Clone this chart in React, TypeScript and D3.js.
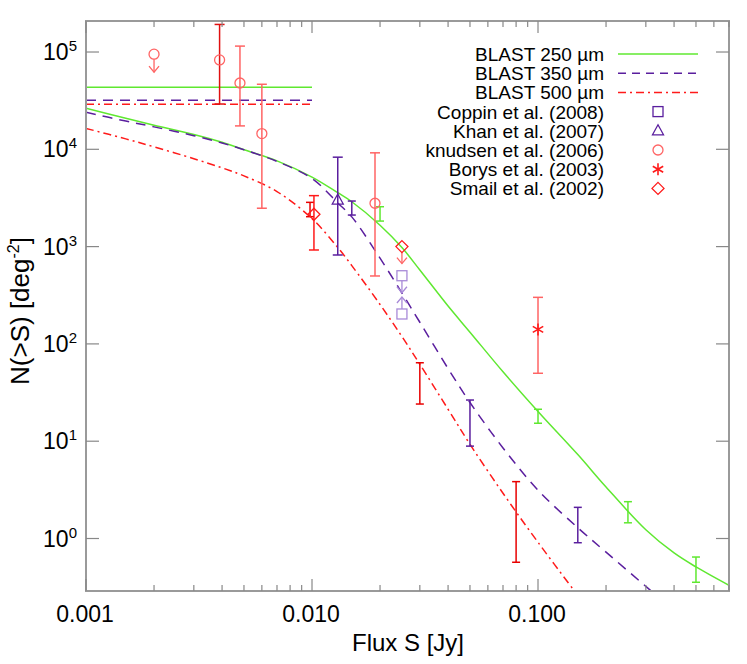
import React, { useRef, useEffect } from "react";
import * as d3 from "d3";

// model counts N(>S)
const fluxGrid = [0.001, 0.0015, 0.002, 0.003, 0.004, 0.005, 0.007, 0.01, 0.013, 0.015, 0.02, 0.025, 0.03, 0.04, 0.05, 0.07, 0.1, 0.15, 0.2, 0.3, 0.4, 0.5, 0.7];
const blast250 = [2.64e4, 2.09e4, 1.77e4, 1.42e4, 1.18e4, 9.9e3, 7.6e3, 5.18e3, 3.58e3, 2.89e3, 1.66e3, 977, 575, 245, 132, 51.7, 20.2, 7.28, 3.38, 1.23, 0.71, 0.51, 0.33];
const blast350 = [2.4e4, 1.95e4, 1.7e4, 1.38e4, 1.16e4, 9.9e3, 7.5e3, 5.01e3, 2.81e3, 2.02e3, 760, 333, 167, 55.8, 25, 8.53, 3.14, 1.29, 0.724, 0.322, 0.181];
const blast500 = [1.64e4, 1.28e4, 1.06e4, 8.0e3, 6.45e3, 5.33e3, 3.68e3, 1.94e3, 980, 638, 254, 119, 61.8, 21.3, 9.3, 2.92, 0.914, 0.26];

// flat levels drawn below 0.01 Jy
const plateauFlux = [0.001, 0.01];
const plateau250 = 4.34e4;
const plateau350 = 3.19e4;
const plateau500 = 2.9e4;

// BLAST error bars
const b250Flux = [0.02, 0.1, 0.25, 0.5];
const b250Lo = [1.83e3, 15.3, 1.45, 0.355];
const b250Hi = [2.57e3, 21.3, 2.39, 0.645];
const b350Flux = [0.015, 0.05, 0.15];
const b350Lo = [2.11e3, 8.9, 0.905];
const b350Hi = [2.94e3, 26.5, 2.09];
const b500Flux = [0.0098, 0.03, 0.08];
const b500Lo = [2.03e3, 24.1, 0.57];
const b500Hi = [2.85e3, 64, 3.84];

// literature points
const knudsenFlux = [0.002, 0.0039, 0.0048, 0.006, 0.019];
const knudsenN = [9.5e4, 8.3e4, 4.8e4, 1.45e4, 2.79e3];
const knudsenLo = [null, 2.92e4, 1.74e4, 2.48e3, 499];
const knudsenHi = [null, 1.92e5, 1.15e5, 4.66e4, 9.2e3];

const smailFlux = [0.0102, 0.025];
const smailN = [2.15e3, 1.0e3];
const smailLo = [923, null];
const smailHi = [3.34e3, null];

const khanFlux = [0.013];
const khanN = [3.01e3];
const khanLo = [820];
const khanHi = [8.3e3];

const coppinFlux = [0.025, 0.025];
const coppinN = [502, 203];
const coppinDir = ["down", "up"];

const borysFlux = [0.1];
const borysN = [141];
const borysLo = [49.9];
const borysHi = [301];

const xTickLabels = ["0.001", "0.010", "0.100"];
const yTickExps = [0, 1, 2, 3, 4, 5];

const legendLabels = [
  "BLAST 250 \u00b5m",
  "BLAST 350 \u00b5m",
  "BLAST 500 \u00b5m",
  "Coppin et al. (2008)",
  "Khan et al. (2007)",
  "knudsen et al. (2006)",
  "Borys et al. (2003)",
  "Smail et al. (2002)",
];

const GREEN = "#5fe830";
const PURPLE = "#5a1e9e";
const LIGHT_PURPLE = "#a88ad8";
const RED = "#ff1a1a";
const LIGHT_RED = "#ff6464";

function App() {
  const ref = useRef(null);

  useEffect(() => {
    const svg = d3.select(ref.current);
    svg.selectAll("*").remove();

    const left = 86, right = 729, top = 21, bottom = 591;
    const x = d3.scaleLog().domain([0.001, 0.7]).range([left, right]);
    const y = d3.scaleLog().domain([0.2887, 2.083e5]).range([bottom, top]);

    svg.append("rect").attr("width", 747).attr("height", 664).attr("fill", "#fff");

    svg.append("clipPath").attr("id", "plotclip")
      .append("rect").attr("x", left).attr("y", top)
      .attr("width", right - left).attr("height", bottom - top);

    const plot = svg.append("g").attr("clip-path", "url(#plotclip)");

    const line = d3.line().curve(d3.curveCatmullRom.alpha(0.5));
    const curve = (vals, color, dash) => {
      const pts = vals.map((v, i) => [x(fluxGrid[i]), y(v)]);
      plot.append("path").attr("d", line(pts))
        .attr("fill", "none").attr("stroke", color).attr("stroke-width", 1.5)
        .attr("stroke-dasharray", dash);
    };
    const plateau = (v, color, dash) => {
      plot.append("line")
        .attr("x1", x(plateauFlux[0])).attr("x2", x(plateauFlux[1]))
        .attr("y1", y(v)).attr("y2", y(v))
        .attr("stroke", color).attr("stroke-width", 1.5).attr("stroke-dasharray", dash);
    };

    const DASH = "10,7";
    const DASHDOT = "8,4,2,4";

    plateau(plateau250, GREEN, null);
    plateau(plateau350, PURPLE, DASH);
    plateau(plateau500, RED, DASHDOT);
    curve(blast250, GREEN, null);
    curve(blast350, PURPLE, DASH);
    curve(blast500, RED, DASHDOT);

    const errBar = (f, lo, hi, color, hw = 4.5) => {
      const cx = x(f);
      const g = plot.append("g").attr("stroke", color).attr("stroke-width", 1.5);
      g.append("line").attr("x1", cx).attr("x2", cx).attr("y1", y(lo)).attr("y2", y(hi));
      g.append("line").attr("x1", cx - hw).attr("x2", cx + hw).attr("y1", y(lo)).attr("y2", y(lo));
      g.append("line").attr("x1", cx - hw).attr("x2", cx + hw).attr("y1", y(hi)).attr("y2", y(hi));
    };

    const arrow = (g, cx, y0, y1, color) => {
      const s = y1 > y0 ? 1 : -1;
      const a = g.append("g").attr("stroke", color).attr("stroke-width", 1.3).attr("fill", "none");
      a.append("line").attr("x1", cx).attr("x2", cx).attr("y1", y0).attr("y2", y1);
      a.append("path").attr("d", `M${cx - 5},${y1 - 6 * s}L${cx},${y1}L${cx + 5},${y1 - 6 * s}`);
    };

    const marker = (g, type, cx, cy, color) => {
      const m = g.append("g").attr("stroke", color).attr("stroke-width", 1.3).attr("fill", "none");
      if (type === "square") {
        m.append("rect").attr("x", cx - 5).attr("y", cy - 5).attr("width", 10).attr("height", 10);
      } else if (type === "triangle") {
        m.append("path").attr("d", `M${cx},${cy - 6}L${cx + 5.5},${cy + 4}L${cx - 5.5},${cy + 4}Z`);
      } else if (type === "circle") {
        m.append("circle").attr("cx", cx).attr("cy", cy).attr("r", 5);
      } else if (type === "diamond") {
        m.append("path").attr("d", `M${cx},${cy - 6}L${cx + 6},${cy}L${cx},${cy + 6}L${cx - 6},${cy}Z`);
      } else if (type === "asterisk") {
        m.attr("stroke-width", 1.6);
        m.append("line").attr("x1", cx).attr("x2", cx).attr("y1", cy - 6).attr("y2", cy + 6);
        m.append("line").attr("x1", cx - 5.2).attr("x2", cx + 5.2).attr("y1", cy - 3).attr("y2", cy + 3);
        m.append("line").attr("x1", cx - 5.2).attr("x2", cx + 5.2).attr("y1", cy + 3).attr("y2", cy - 3);
      }
    };

    // BLAST points
    b250Flux.forEach((f, i) => errBar(f, b250Lo[i], b250Hi[i], GREEN, 4));
    b350Flux.forEach((f, i) => errBar(f, b350Lo[i], b350Hi[i], PURPLE, 4));
    b500Flux.forEach((f, i) => errBar(f, b500Lo[i], b500Hi[i], "#e80000", 4));

    // knudsen
    knudsenFlux.forEach((f, i) => {
      const cx = x(f), cy = y(knudsenN[i]);
      if (knudsenLo[i] == null) {
        marker(plot, "circle", cx, cy, LIGHT_RED);
        arrow(plot, cx, cy + 5, cy + 18, LIGHT_RED);
      } else {
        errBar(f, knudsenLo[i], knudsenHi[i], i === 1 ? "#e01010" : LIGHT_RED, 5);
        marker(plot, "circle", cx, cy, LIGHT_RED);
      }
    });

    // smail
    smailFlux.forEach((f, i) => {
      const cx = x(f), cy = y(smailN[i]);
      if (smailLo[i] == null) {
        arrow(plot, cx, cy + 6, cy + 17, LIGHT_RED);
      } else {
        errBar(f, smailLo[i], smailHi[i], RED, 5);
      }
      marker(plot, "diamond", cx, cy, RED);
    });

    // khan
    khanFlux.forEach((f, i) => {
      errBar(f, khanLo[i], khanHi[i], PURPLE, 5);
      marker(plot, "triangle", x(f), y(khanN[i]), PURPLE);
    });

    // coppin limits
    coppinFlux.forEach((f, i) => {
      const cx = x(f), cy = y(coppinN[i]);
      marker(plot, "square", cx, cy, LIGHT_PURPLE);
      if (coppinDir[i] === "down") arrow(plot, cx, cy + 5, cy + 17, LIGHT_PURPLE);
      else arrow(plot, cx, cy - 5, cy - 17, LIGHT_PURPLE);
    });

    // borys
    borysFlux.forEach((f, i) => {
      errBar(f, borysLo[i], borysHi[i], LIGHT_RED, 5);
      marker(plot, "asterisk", x(f), y(borysN[i]), RED);
    });

    // frame and ticks
    const axisColor = "#9a9a9a";
    svg.append("rect").attr("x", left).attr("y", top)
      .attr("width", right - left).attr("height", bottom - top)
      .attr("fill", "none").attr("stroke", axisColor).attr("stroke-width", 2);

    const ticks = svg.append("g").attr("stroke", "#888").attr("stroke-width", 1.2);
    [0.001, 0.01, 0.1].forEach((d) => {
      for (let k = 1; k <= 9; k++) {
        const v = d * k;
        if (v > 0.7 + 1e-9) break;
        const len = k === 1 ? 12 : 6;
        const px = x(v);
        ticks.append("line").attr("x1", px).attr("x2", px).attr("y1", bottom).attr("y2", bottom - len);
        ticks.append("line").attr("x1", px).attr("x2", px).attr("y1", top).attr("y2", top + len);
      }
    });
    yTickExps.forEach((e) => {
      const py = y(Math.pow(10, e));
      ticks.append("line").attr("x1", left).attr("x2", left + 13).attr("y1", py).attr("y2", py);
      ticks.append("line").attr("x1", right).attr("x2", right - 13).attr("y1", py).attr("y2", py);
    });

    const font = "'Liberation Sans', Arial, Helvetica, sans-serif";
    const text = svg.append("g").attr("font-family", font).attr("fill", "#000");

    [0.001, 0.01, 0.1].forEach((v, i) => {
      text.append("text").attr("x", x(v) - 1).attr("y", 622)
        .attr("text-anchor", "middle").attr("font-size", 23).text(xTickLabels[i]);
    });
    yTickExps.forEach((e) => {
      const t = text.append("text").attr("x", 77).attr("y", y(Math.pow(10, e)) + 8)
        .attr("text-anchor", "end").attr("font-size", 23);
      t.append("tspan").text("10");
      t.append("tspan").attr("dy", -9).attr("font-size", 15).text(String(e));
    });

    text.append("text").attr("x", 408).attr("y", 651).attr("text-anchor", "middle")
      .attr("font-size", 24).text("Flux S [Jy]");

    const yt = text.append("text").attr("transform", "translate(29,311) rotate(-90)")
      .attr("text-anchor", "middle").attr("font-size", 26);
    yt.append("tspan").text("N(>S) [deg");
    yt.append("tspan").attr("dy", -10).attr("font-size", 16).text("-2");
    yt.append("tspan").attr("dy", 10).text("]");

    // legend
    const lg = svg.append("g");
    legendLabels.forEach((lab, i) => {
      const cy = 54 + i * 19.2;
      lg.append("text").attr("x", 604).attr("y", cy + 7).attr("text-anchor", "end")
        .attr("font-family", font).attr("font-size", 19).text(lab);
    });
    const legLine = (i, color, dash) => {
      const cy = 54 + i * 19.2;
      lg.append("line").attr("x1", 618).attr("x2", 698).attr("y1", cy).attr("y2", cy)
        .attr("stroke", color).attr("stroke-width", 1.5).attr("stroke-dasharray", dash);
    };
    legLine(0, GREEN, null);
    legLine(1, PURPLE, "8,6");
    legLine(2, RED, DASHDOT);
    const mx = 658;
    marker(lg, "square", mx, 54 + 3 * 19.2, PURPLE);
    marker(lg, "triangle", mx, 54 + 4 * 19.2, PURPLE);
    marker(lg, "circle", mx, 54 + 5 * 19.2, LIGHT_RED);
    marker(lg, "asterisk", mx, 54 + 6 * 19.2, RED);
    marker(lg, "diamond", mx, 54 + 7 * 19.2, RED);
  }, []);

  return (
    <svg
      ref={ref}
      width={747}
      height={664}
      style={{ position: "absolute", left: 0, top: 0, display: "block" }}
    ></svg>
  );
}

export default App;
